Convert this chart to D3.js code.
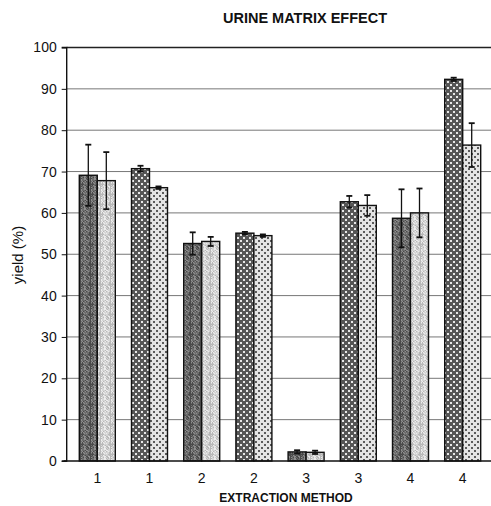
<!DOCTYPE html>
<html>
<head>
<meta charset="utf-8">
<script src="https://cdn.jsdelivr.net/npm/d3@7/dist/d3.min.js"></script>
<style>
  html, body { margin: 0; padding: 0; background: #fff; }
  svg { display: block; }
  text { font-family: "Liberation Sans", Arial, sans-serif; fill: #111; }
</style>
</head>
<body>
<svg id="chart" width="491" height="506"></svg>
<script>
// Extraction method of each bar pair
const categories = ["1", "1", "2", "2", "3", "3", "4", "4"];
// Yield (%) of the first (dark) and second (light) bar in each pair
const darkYield  = [69.1, 70.7, 52.6, 55.1, 2.2, 62.7, 58.7, 92.3];
const lightYield = [67.8, 66.1, 53.1, 54.5, 2.1, 61.8, 60.0, 76.4];
// Error (± %) of each bar
const darkErr  = [7.4, 0.7, 2.7, 0.3, 0.4, 1.4, 7.0, 0.4];
const lightErr = [6.9, 0.3, 1.1, 0.3, 0.4, 2.5, 5.9, 5.3];
const yTicks = [0, 10, 20, 30, 40, 50, 60, 70, 80, 90, 100];

const svg = d3.select("#chart");
const plot = { left: 66.7, right: 491, top: 47.5, bottom: 461 };

const x = d3.scaleBand()
  .domain(d3.range(categories.length))
  .range([71.2, 488.8])
  .paddingInner(0)
  .paddingOuter(0);

const y = d3.scaleLinear().domain([0, 100]).range([plot.bottom, plot.top]);

const barW = 18;

// ---- fill textures ----
const defs = svg.append("defs");

// fine grained stipple: an irregular speckle tile
function grain(id, base, dark, light) {
  const n = 10;
  const p = defs.append("pattern")
    .attr("id", id).attr("patternUnits", "userSpaceOnUse")
    .attr("width", n).attr("height", n);
  p.append("rect").attr("width", n).attr("height", n).attr("fill", base);
  for (let i = 0; i < n; i++) {
    for (let j = 0; j < n; j++) {
      const h = ((i * 37 + j * 61 + i * j * 17 + (i ^ j) * 5) % 11);
      const c = h < 3 ? dark : (h > 7 ? light : null);
      if (c) {
        p.append("rect").attr("x", i).attr("y", j)
          .attr("width", 1).attr("height", 1).attr("fill", c);
      }
    }
  }
}
grain("fineDark", "#6c6c6c", "#4a4a4a", "#8e8e8e");
grain("fineLight", "#d4d4d4", "#b8b8b8", "#ececec");

// staggered dot grid
function dots(id, base, dot) {
  const s = 6;
  const p = defs.append("pattern")
    .attr("id", id).attr("patternUnits", "userSpaceOnUse")
    .attr("width", s).attr("height", s);
  p.append("rect").attr("width", s).attr("height", s).attr("fill", base);
  [[1, 1], [4, 4]].forEach(([cx, cy]) => {
    p.append("rect").attr("x", cx - 1).attr("y", cy - 1)
      .attr("width", 2).attr("height", 2).attr("fill", dot);
  });
}
dots("dotDark", "#565656", "#e8e8e8");
dots("dotLight", "#e4e4e4", "#5a5a5a");

// ---- gridlines ----
svg.append("g")
  .selectAll("line")
  .data(yTicks.filter(t => t > 0 && t < 100))
  .join("line")
  .attr("x1", plot.left).attr("x2", plot.right)
  .attr("y1", d => y(d)).attr("y2", d => y(d))
  .attr("stroke", "#777").attr("stroke-width", 1);

// top border of plot area
svg.append("line")
  .attr("x1", plot.left).attr("x2", plot.right)
  .attr("y1", y(100)).attr("y2", y(100))
  .attr("stroke", "#222").attr("stroke-width", 1.6);

// ---- bars ----
const bars = [];
categories.forEach((c, i) => {
  const cx = x(i) + x.bandwidth() / 2;
  bars.push({ i, x0: cx - barW, v: darkYield[i], e: darkErr[i],
              fill: i % 2 === 0 ? "url(#fineDark)" : "url(#dotDark)" });
  bars.push({ i, x0: cx, v: lightYield[i], e: lightErr[i],
              fill: i % 2 === 0 ? "url(#fineLight)" : "url(#dotLight)" });
});

svg.append("g")
  .selectAll("rect")
  .data(bars)
  .join("rect")
  .attr("x", d => d.x0)
  .attr("y", d => y(d.v))
  .attr("width", barW)
  .attr("height", d => y(0) - y(d.v))
  .attr("fill", d => d.fill)
  .attr("stroke", "#111")
  .attr("stroke-width", 1.4);

// ---- error bars ----
const eg = svg.append("g").attr("stroke", "#111").attr("stroke-width", 1.3);
bars.forEach(d => {
  const cx = d.x0 + barW / 2;
  eg.append("line").attr("x1", cx).attr("x2", cx)
    .attr("y1", y(d.v + d.e)).attr("y2", y(d.v - d.e));
  [d.v + d.e, d.v - d.e].forEach(v => {
    eg.append("line").attr("x1", cx - 3).attr("x2", cx + 3)
      .attr("y1", y(v)).attr("y2", y(v)).attr("stroke-width", 1.8);
  });
});

// ---- axes ----
const yAxis = d3.axisLeft(y).tickValues(yTicks).tickSize(5).tickPadding(5)
  .tickFormat(d3.format("d"));
const yg = svg.append("g").attr("transform", `translate(${plot.left},0)`).call(yAxis);
yg.select(".domain").attr("stroke", "#111").attr("stroke-width", 1.4)
  .attr("d", `M-5,${y(100)}H0V${y(0)}H-5`);
yg.selectAll(".tick line").attr("stroke", "#111");
yg.selectAll(".tick text").attr("font-size", 14).attr("fill", "#111")
  .style("font-family", "'Liberation Sans', Arial, sans-serif");

// x axis line
svg.append("line")
  .attr("x1", plot.left - 3).attr("x2", plot.right)
  .attr("y1", y(0)).attr("y2", y(0))
  .attr("stroke", "#111").attr("stroke-width", 1.6);

const xAxis = d3.axisBottom(x).tickSize(0).tickPadding(12)
  .tickFormat(i => categories[i]);
const xg = svg.append("g").attr("transform", `translate(0,${y(0)})`).call(xAxis);
xg.select(".domain").remove();
xg.selectAll(".tick text").attr("font-size", 14).attr("fill", "#111")
  .style("font-family", "'Liberation Sans', Arial, sans-serif");

// ---- titles ----
svg.append("text")
  .attr("x", 305).attr("y", 23)
  .attr("text-anchor", "middle")
  .attr("font-size", 14.5).attr("font-weight", "bold")
  .text("URINE MATRIX EFFECT");

svg.append("text")
  .attr("x", 286).attr("y", 502)
  .attr("text-anchor", "middle")
  .attr("font-size", 12).attr("font-weight", "bold")
  .text("EXTRACTION METHOD");

svg.append("text")
  .attr("transform", `translate(23,255) rotate(-90)`)
  .attr("text-anchor", "middle")
  .attr("font-size", 15)
  .text("yield (%)");
</script>
</body>
</html>
